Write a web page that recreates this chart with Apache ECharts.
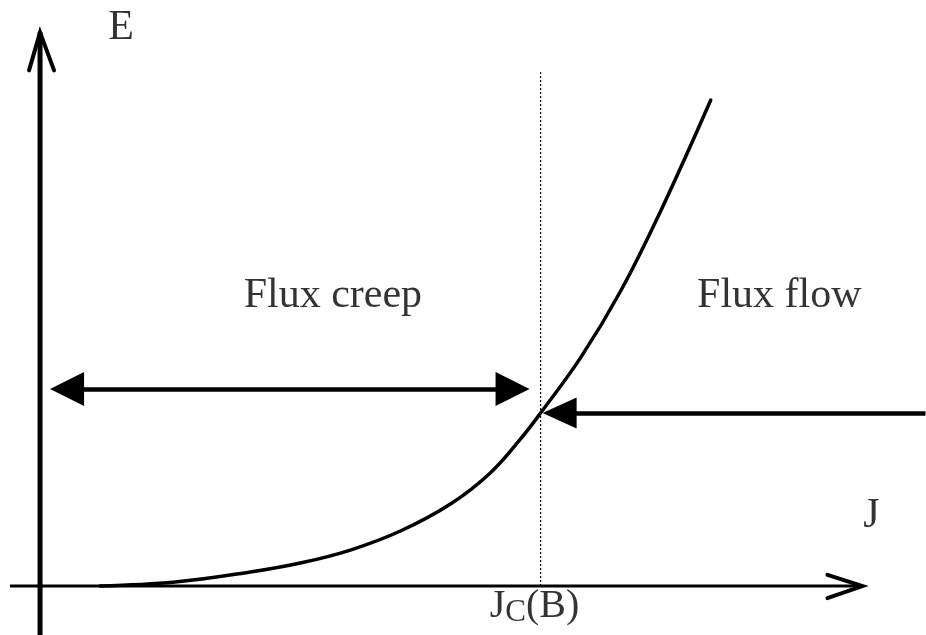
<!DOCTYPE html>
<html>
<head>
<meta charset="utf-8">
<script src="https://cdn.jsdelivr.net/npm/echarts@6/dist/echarts.min.js"></script>
<style>
  html, body { margin: 0; padding: 0; background: #fff; }
  #main { width: 926px; height: 635px; }
</style>
</head>
<body>
<div id="main"></div>
<script>
// E-J curve (J in units of Jc, E in units of E(Jc))
var curveJ = [0.12, 0.27, 0.42, 0.52, 0.62, 0.72, 0.82, 0.9, 0.96, 1.0, 1.08, 1.16, 1.24, 1.34];
var curveE = [0, 0.023, 0.081, 0.133, 0.208, 0.318, 0.474, 0.655, 0.85, 1.0, 1.32, 1.705, 2.168, 2.809];

var jc = 1.0;
var ec = 1.0;

// text labels: name, J, E
var labelNames = ['E', 'Flux creep', 'Flux flow', 'J', 'Jc(B)'];
var labelJ = [0.162, 0.585, 1.477, 1.661, 0.988];
var labelE = [3.225, 1.676, 1.676, 0.405, -0.116];

var serif = "'Liberation Serif', 'Times New Roman', serif";

window.onload = function () {
    var myChart = echarts.init(document.getElementById('main'));

    var curveData = curveJ.map(function (j, i) { return [j, curveE[i]]; });
    var labelData = labelNames.map(function (n, i) {
        return { name: n, value: [labelJ[i], labelE[i]] };
    });

    var black = '#000';

    var option = {
        animation: false,
        grid: { left: 0, right: 0, top: 0, bottom: 0 },
        xAxis: { type: 'value', min: -0.08, max: 1.77, show: false },
        yAxis: { type: 'value', min: -0.283, max: 3.387, show: false },
        series: [
            {
                // E axis
                type: 'line', symbol: 'none',
                data: [[0, -0.3], [0, 3.2]],
                lineStyle: { color: black, width: 5 }
            },
            {
                type: 'line', symbol: 'none',
                data: [[-0.022, 2.98], [0, 3.2], [0.028, 2.98]],
                lineStyle: { color: black, width: 4, join: 'miter', cap: 'round' }
            },
            {
                // J axis
                type: 'line', symbol: 'none',
                data: [[-0.06, 0], [1.643, 0]],
                lineStyle: { color: black, width: 3 }
            },
            {
                type: 'line', symbol: 'none',
                data: [[1.573, 0.065], [1.643, 0], [1.573, -0.07]],
                lineStyle: { color: black, width: 4, join: 'miter', cap: 'round' }
            },
            {
                // Jc marker
                type: 'line', symbol: 'none',
                data: [[jc, 0], [jc, 2.97]],
                lineStyle: { color: black, width: 1.2, type: [2, 2] }
            },
            {
                // E-J curve
                type: 'line', symbol: 'none', smooth: 0.4,
                data: curveData,
                lineStyle: { color: black, width: 3.5, cap: 'round' }
            },
            {
                // arrows
                type: 'line', symbol: 'none', data: [],
                markLine: {
                    silent: true,
                    label: { show: false },
                    data: [
                        [
                            { coord: [0.054, 1.139], symbol: 'triangle', symbolSize: [34, 34] },
                            { coord: [0.944, 1.139], symbol: 'triangle', symbolSize: [34, 34] }
                        ],
                        [
                            { coord: [jc + 0.038, ec], symbol: 'triangle', symbolSize: [31, 34] },
                            { coord: [1.769, ec], symbol: 'none' }
                        ]
                    ],
                    lineStyle: { color: black, width: 4.5, type: 'solid' },
                    itemStyle: { color: black }
                }
            },
            {
                type: 'scatter', symbolSize: 0,
                data: labelData,
                label: {
                    show: true, position: 'inside',
                    color: '#000', fontFamily: serif, fontSize: 42,
                    formatter: function (p) {
                        if (p.name === 'Jc(B)') return '{a|J}{b|C}{a|(B)}';
                        return p.name;
                    },
                    rich: {
                        a: { fontFamily: serif, fontSize: 40, lineHeight: 44, color: '#000' },
                        b: { fontFamily: serif, fontSize: 31, lineHeight: 22, verticalAlign: 'bottom', color: '#000' }
                    }
                }
            }
        ]
    };
    myChart.setOption(option);
};
</script>
</body>
</html>
